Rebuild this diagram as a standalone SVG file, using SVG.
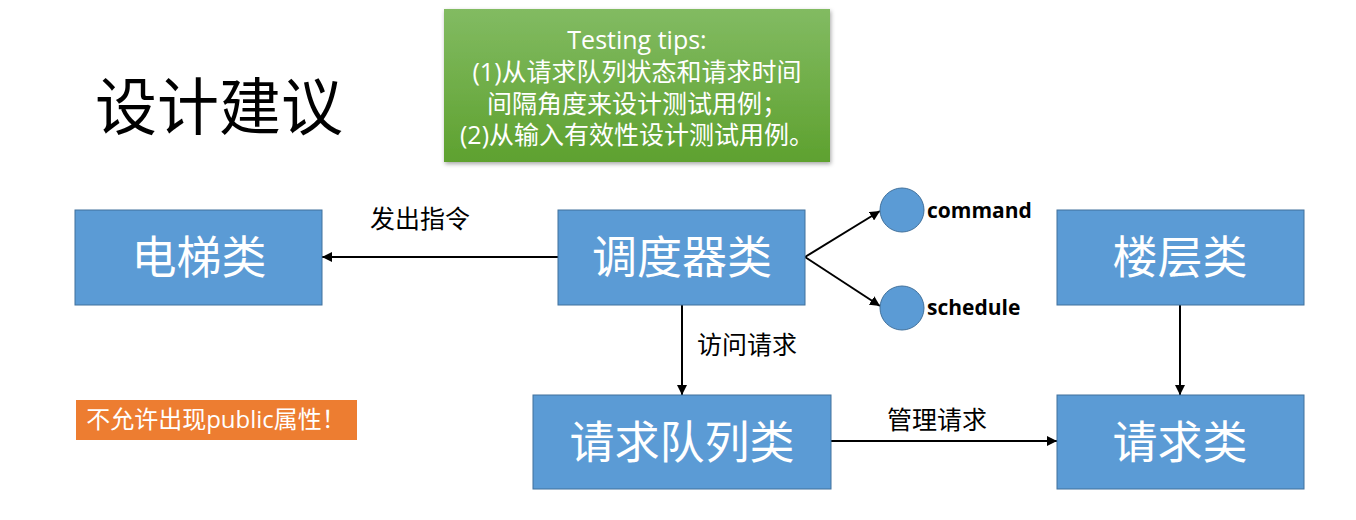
<svg xmlns="http://www.w3.org/2000/svg" width="1356" height="520" viewBox="0 0 1356 520">
<defs>
<linearGradient id="g" x1="0" y1="0" x2="0" y2="1">
<stop offset="0" stop-color="#82bb62"/>
<stop offset="1" stop-color="#5ea12f"/>
</linearGradient>
<marker id="ah" viewBox="0 0 10 10" refX="10" refY="5" markerWidth="10" markerHeight="10" markerUnits="userSpaceOnUse" orient="auto">
<path d="M0,0 L10,5 L0,10 z" fill="#000"/>
</marker>
<filter id="sh" x="-5%" y="-5%" width="110%" height="115%">
<feDropShadow dx="1" dy="2" stdDeviation="2" flood-opacity="0.35"/>
</filter>
</defs>
<style>
.box{fill:#5b9bd5;stroke:#41719c;stroke-width:1}
.bt{fill:#fff;font-family:"Noto Sans CJK SC",sans-serif;font-size:45px;text-anchor:middle}
.lbl{fill:#000;font-family:"Noto Sans CJK SC",sans-serif;font-size:25px}
.conn{stroke:#000;stroke-width:2;fill:none;marker-end:url(#ah)}
.en{fill:#000;font-family:"Open Sans","Liberation Sans",sans-serif;font-weight:bold;font-size:21px}
.tip{fill:#fff;font-family:"Open Sans","Noto Sans CJK SC",sans-serif;font-size:25px;text-anchor:middle}
</style>
<rect width="1356" height="520" fill="#fff"/>
<text x="95" y="130" font-family="Noto Sans CJK SC, sans-serif" font-size="62" fill="#000">设计建议</text>
<g id="tips">
<rect x="444" y="9" width="386" height="153" fill="url(#g)" filter="url(#sh)"/>
<text class="tip" x="637" y="49">Testing tips:</text>
<text class="tip" x="637" y="81">(1)从请求队列状态和请求时间</text>
<text class="tip" x="637" y="113">间隔角度来设计测试用例；</text>
<text class="tip" x="637" y="144">(2)从输入有效性设计测试用例。</text>
</g>
<g id="connectors">
<line class="conn" x1="558" y1="257" x2="322" y2="257"/>
<line class="conn" x1="805" y1="257" x2="880" y2="211"/>
<line class="conn" x1="805" y1="257" x2="880" y2="306"/>
<line class="conn" x1="682" y1="305" x2="682" y2="395"/>
<line class="conn" x1="1180" y1="305" x2="1180" y2="395"/>
<line class="conn" x1="831" y1="441" x2="1057" y2="441"/>
<text class="lbl" x="370" y="228">发出指令</text>
<text class="lbl" x="697" y="354">访问请求</text>
<text class="lbl" x="887" y="429">管理请求</text>
</g>
<g id="elevator"><rect class="box" x="75" y="210" width="247" height="95"/><text class="bt" x="199" y="274">电梯类</text></g>
<g id="scheduler"><rect class="box" x="558" y="210" width="247" height="95"/><text class="bt" x="682" y="274">调度器类</text></g>
<g id="floor"><rect class="box" x="1057" y="210" width="247" height="95"/><text class="bt" x="1180" y="274">楼层类</text></g>
<g id="queue"><rect class="box" x="533" y="395" width="298" height="94"/><text class="bt" x="682" y="459">请求队列类</text></g>
<g id="request"><rect class="box" x="1057" y="395" width="247" height="94"/><text class="bt" x="1180" y="459">请求类</text></g>
<g id="command"><circle cx="902" cy="210" r="22" fill="#5b9bd5" stroke="#41719c"/><text class="en" x="927" y="218">command</text></g>
<g id="schedule"><circle cx="902" cy="308" r="22" fill="#5b9bd5" stroke="#41719c"/><text class="en" x="927" y="315">schedule</text></g>
<g id="warning"><rect x="76" y="400" width="281" height="40" fill="#ed7d31"/><text x="216" y="428" fill="#fff" font-family="Open Sans, Noto Sans CJK SC, sans-serif" font-size="24" text-anchor="middle">不允许出现public属性！</text></g>
</svg>
